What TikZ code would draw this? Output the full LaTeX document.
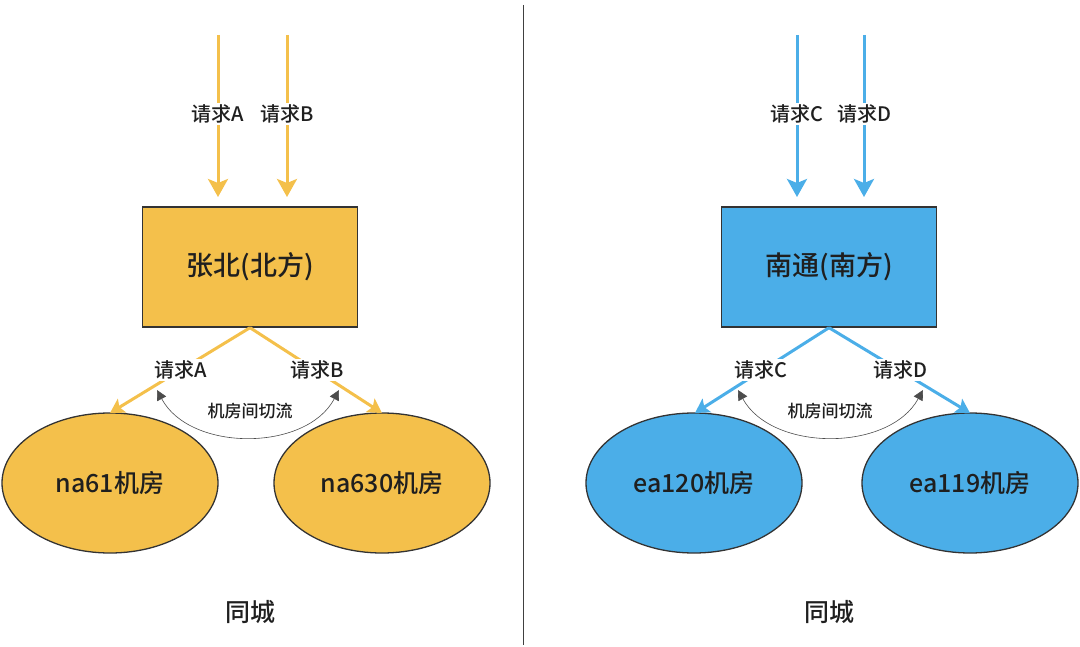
\documentclass[tikz,border=0pt]{standalone}
\usepackage{fontspec}
\setmainfont{Noto Sans CJK SC}[BoldFont={Noto Sans CJK SC Medium}]
\usetikzlibrary{arrows.meta,shapes.geometric}
\definecolor{yel}{HTML}{F4C04B}
\definecolor{blu}{HTML}{4BAEE8}
\definecolor{edge}{HTML}{333333}
\begin{document}
\begin{tikzpicture}[x=1pt,y=-1pt,
  every node/.style={font=\bfseries},
  flow/.style={line width=3pt},
  bighead/.style={-{Stealth[length=18pt,width=20pt,inset=4pt]}},
  smallhead/.style={-{Stealth[length=14pt,width=16pt,inset=3pt]}},
  lbl/.style={fill=white,inner sep=2pt,font=\bfseries\fontsize{20}{24}\selectfont,text=black!88},
  dc/.style={draw=edge,line width=1.4pt,minimum width=215pt,minimum height=120pt,font=\bfseries\fontsize{27}{31}\selectfont,text=black!88},
  room/.style={ellipse,draw=edge,line width=1.3pt,minimum width=216pt,minimum height=140pt,inner sep=0pt,font=\bfseries\fontsize{25}{29}\selectfont,text=black!88},
  cut/.style={{Triangle[length=10pt,width=10pt]}-{Triangle[length=10pt,width=10pt]},draw=black!70,line width=0.6pt},
  cutlbl/.style={font=\bfseries\fontsize{17}{20}\selectfont,text=black!88},
  city/.style={font=\bfseries\fontsize{25}{29}\selectfont,text=black!88}]
\useasboundingbox (0,0) rectangle (1080,647);
% divider
\coordinate (dtop) at (523,5);
\coordinate (dbot) at (523,645);
\draw[black!75,line width=1pt] (dtop) -- (dbot);

% ===== left =====
\node[dc,fill=yel] (zb) at (250,267) {张北(北方)};
\coordinate (sa) at (218,35);
\coordinate (sb) at (287,35);
\coordinate (ea) at (218,197);
\coordinate (eb) at (287,197);
\draw[flow,bighead,yel] (sa) -- (ea);
\draw[flow,bighead,yel] (sb) -- (eb);
\node[lbl] (ta) at (218,114) {请求A};
\node[lbl] (tb) at (287,114) {请求B};
\node[room,fill=yel] (na61) at (110,483) {na61机房};
\node[room,fill=yel] (na630) at (382,483) {na630机房};
\coordinate (lta) at (110,413);
\coordinate (ltb) at (382,413);
\draw[flow,smallhead,yel] (zb.south) -- (lta);
\draw[flow,smallhead,yel] (zb.south) -- (ltb);
\node[lbl] (la) at (181,370) {请求A};
\node[lbl] (lb) at (317,370) {请求B};
\coordinate (ca) at (157,390);
\coordinate (cb) at (339,390);
\draw[cut] (ca) .. controls (190,452) and (306,452) .. (cb);
\node[cutlbl] (cl) at (250,411) {机房间切流};
\node[city] (c1) at (250,612) {同城};

% ===== right =====
\node[dc,fill=blu] (nt) at (829,267) {南通(南方)};
\coordinate (sc) at (797,35);
\coordinate (sd) at (864,35);
\coordinate (ec) at (797,197);
\coordinate (ed) at (864,197);
\draw[flow,bighead,blu] (sc) -- (ec);
\draw[flow,bighead,blu] (sd) -- (ed);
\node[lbl] (tc) at (797,114) {请求C};
\node[lbl] (td) at (864,114) {请求D};
\node[room,fill=blu] (ea120) at (694,483) {ea120机房};
\node[room,fill=blu] (ea119) at (970,483) {ea119机房};
\coordinate (ltc) at (695,413);
\coordinate (ltd) at (970,413);
\draw[flow,smallhead,blu] (nt.south) -- (ltc);
\draw[flow,smallhead,blu] (nt.south) -- (ltd);
\node[lbl] (lc) at (761,370) {请求C};
\node[lbl] (ld) at (900,370) {请求D};
\coordinate (cc) at (738,390);
\coordinate (cd) at (923,390);
\draw[cut] (cc) .. controls (772,452) and (889,452) .. (cd);
\node[cutlbl] (cl2) at (830,411) {机房间切流};
\node[city] (c2) at (829,612) {同城};
\end{tikzpicture}
\end{document}
